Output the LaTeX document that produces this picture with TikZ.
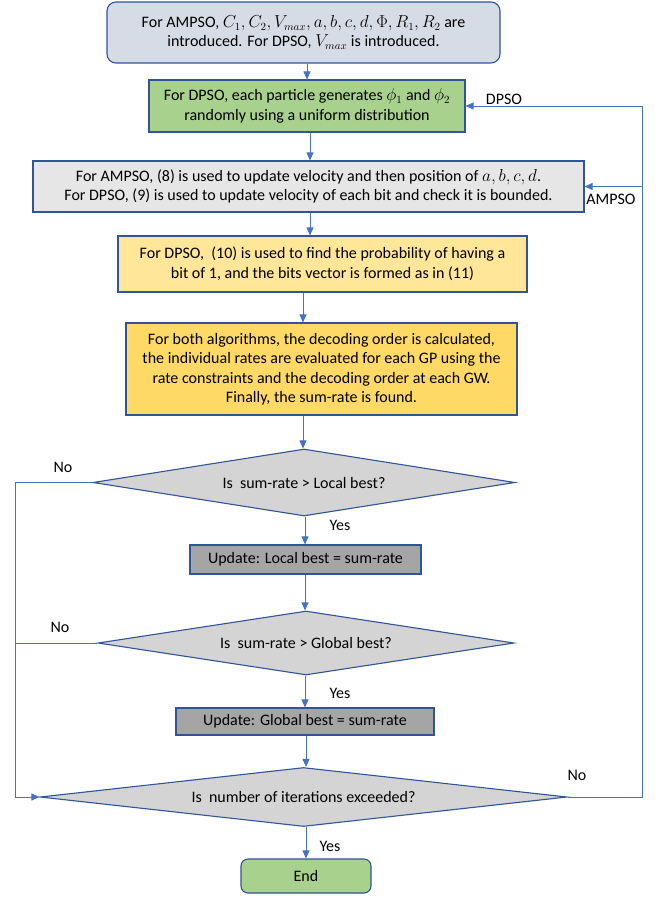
\documentclass[tikz,border=0pt]{standalone}
\usepackage{fontspec}
\setmainfont{Carlito}
\usetikzlibrary{shapes.geometric,arrows.meta}
\definecolor{lnblue}{HTML}{4472C4}
\definecolor{bdblue}{HTML}{2F5597}
\definecolor{fblue}{HTML}{D6DCE5}
\definecolor{fgreen}{HTML}{A9D18E}
\definecolor{fgray}{HTML}{E7E6E6}
\definecolor{fyel}{HTML}{FFE699}
\definecolor{fgold}{HTML}{FFD966}
\definecolor{fdia}{HTML}{D4D4D4}
\definecolor{fdark}{HTML}{A5A5A5}
\tikzset{
  box/.style={draw=bdblue, line width=1.1pt, align=center, inner sep=2pt,
    font=\fontsize{16}{19.5}\selectfont},
  dia/.style={diamond, draw=bdblue, line width=1.1pt, fill=fdia, inner sep=0pt,
    font=\fontsize{16}{19.5}\selectfont},
  arr/.style={draw=lnblue, line width=0.8pt, -{Triangle[length=8pt,width=7pt]}},
  ln/.style={draw=lnblue, line width=0.8pt},
  lbl/.style={font=\fontsize{16}{18}\selectfont, inner sep=0pt}
}
\begin{document}
\begin{tikzpicture}[x=1pt,y=-1pt]
\useasboundingbox (0,0) rectangle (660,899);
\node[box, rounded corners=9pt, fill=fblue, minimum width=393pt, minimum height=61pt] (b1) at (303.5,32.5)
  {For AMPSO, $C_1, C_2, V_{max}, a, b, c, d, \Phi, R_1, R_2$ are\\introduced. For DPSO, $V_{max}$ is introduced.};
\node[box, fill=fgreen, minimum width=316pt, minimum height=52pt] (b2) at (307,106)
  {For DPSO, each particle generates $\phi_1$ and $\phi_2$\\randomly using a uniform distribution};
\node[box, fill=fgray, minimum width=551pt, minimum height=51pt] (b3) at (308.5,186.5)
  {For AMPSO, (8) is used to update velocity and then position of $a, b, c, d$.\\For DPSO, (9) is used to update velocity of each bit and check it is bounded.};
\node[box, fill=fyel, minimum width=409pt, minimum height=56pt] (b4) at (322.5,264)
  {For DPSO,\ \ (10) is used to find the probability of having a\\bit of 1, and the bits vector is formed as in (11)};
\node[box, fill=fgold, minimum width=391pt, minimum height=92pt] (b5) at (321.5,369)
  {For both algorithms, the decoding order is calculated,\\the individual rates are evaluated for each GP using the\\rate constraints and the decoding order at each GW.\\Finally, the sum-rate is found.};
\node[dia, aspect=6.3, minimum width=422pt, minimum height=67pt] (d1) at (304,482.5) {Is\ \ sum-rate > Local best?};
\node[box, fill=fdark, minimum width=231pt, minimum height=29pt] (b6) at (305.5,559.5) {Update: Local best = sum-rate};
\node[dia, aspect=6.5, minimum width=416pt, minimum height=64pt] (d2) at (306,643) {Is\ \ sum-rate > Global best?};
\node[box, fill=fdark, minimum width=258pt, minimum height=27pt] (b7) at (305,721.5) {Update: Global best = sum-rate};
\node[dia, aspect=8.9, minimum width=527pt, minimum height=59pt] (d3) at (303.5,797) {Is\ \ number of iterations exceeded?};
\node[box, rounded corners=7pt, fill=fgreen, minimum width=130pt, minimum height=34pt] (end) at (306,876) {End};

\coordinate (rb) at (642,797);
\coordinate (rm) at (642,186.5);
\coordinate (lt) at (15,482.5);
\coordinate (lm) at (15,643);

\draw[arr] (b1.south -| 307,0) -- (b2.north -| 307,0);
\draw[arr] (b2.south -| 310,0) -- (b3.north -| 310,0);
\draw[arr] (b3.south -| 310,0) -- (b4.north -| 310,0);
\draw[arr] (b4.south -| 303,0) -- (b5.north -| 303,0);
\draw[arr] (b5.south -| 303,0) -- (d1.north -| 303,0);
\draw[arr] (d1.south -| 305,0) -- (b6.north -| 305,0);
\draw[arr] (b6.south -| 305,0) -- (d2.north -| 305,0);
\draw[arr] (d2.south -| 305,0) -- (b7.north -| 305,0);
\draw[arr] (b7.south -| 306,0) -- (d3.north -| 306,0);
\draw[arr] (d3.south -| 306,0) -- (end.north -| 306,0);

\draw[arr] (d3.east) -- (rb) |- (b2.east);
\draw[arr] (rm) -- (b3.east);
\draw[arr] (d1.west) -- (lt) |- (d3.west);
\draw[ln] (d2.west) -- (lm);

\node[lbl] (ldpso) at (504,99) {DPSO};
\node[lbl] (lampso) at (611,199) {AMPSO};
\node[lbl] (no1) at (63,467) {No};
\node[lbl] (no2) at (60,627) {No};
\node[lbl] (no3) at (577,775) {No};
\node[lbl] (yes1) at (340,525) {Yes};
\node[lbl] (yes2) at (340,693) {Yes};
\node[lbl] (yes3) at (330,846) {Yes};
\end{tikzpicture}
\end{document}
